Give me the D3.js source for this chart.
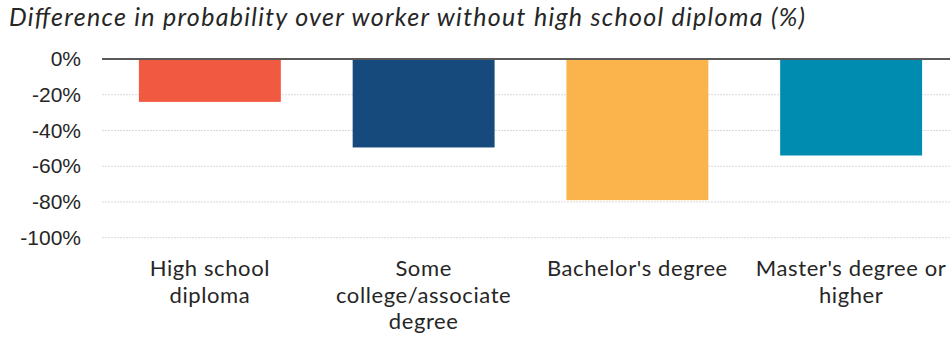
<!DOCTYPE html>
<html>
<head>
<meta charset="utf-8">
<script src="https://cdn.jsdelivr.net/npm/d3@7"></script>
<style>
  html, body { margin: 0; padding: 0; background: #fff; }
  svg { display: block; }
</style>
</head>
<body>
<svg id="chart" width="950" height="337"></svg>
<script>
// Education levels, with each label broken into its display lines
const categories = ["High school diploma", "Some college/associate degree", "Bachelor's degree", "Master's degree or higher"];
const categoryLines = [
  ["High school", "diploma"],
  ["Some", "college/associate", "degree"],
  ["Bachelor's degree"],
  ["Master's degree or", "higher"]
];
// Difference in probability vs. worker without a high school diploma (%)
const values = [-24, -49.5, -79, -54];
const barColors = ["#F15A40", "#174A7C", "#FBB44C", "#008BB0"];
const yTicks = [0, -20, -40, -60, -80, -100];
const title = "Difference in probability over worker without high school diploma (%)";

const svg = d3.select("#chart");
const W = 950;

const x = d3.scaleBand()
  .domain(categories)
  .range([103, 958])
  .paddingInner(0.336)
  .paddingOuter(0.168);

const y = d3.scaleLinear()
  .domain([-100, 0])
  .range([237.7, 59]);

// Title
svg.append("text")
  .attr("x", 9)
  .attr("y", 26)
  .attr("font-family", "Lato, 'Noto Sans', sans-serif")
  .attr("font-style", "italic")
  .attr("font-size", 25)
  .attr("textLength", 796)
  .attr("lengthAdjust", "spacing")
  .attr("fill", "#262626")
  .text(title);

// Dotted gridlines
svg.append("g")
  .selectAll("line")
  .data(yTicks.filter(t => t !== 0))
  .join("line")
  .attr("x1", 102).attr("x2", W)
  .attr("y1", d => y(d)).attr("y2", d => y(d))
  .attr("stroke", "#d9d9d9")
  .attr("stroke-width", 1)
  .attr("stroke-dasharray", "2,1");

// Y axis labels
const yAxis = d3.axisLeft(y)
  .tickValues(yTicks)
  .tickFormat(d => d + "%")
  .tickSize(0)
  .tickPadding(0);
const yg = svg.append("g")
  .attr("transform", "translate(81,0)")
  .call(yAxis);
yg.select(".domain").remove();
yg.selectAll("text")
  .attr("font-family", "'Liberation Sans', Arial, sans-serif")
  .attr("font-size", 21)
  .attr("fill", "#262626");

// Bars
svg.append("g")
  .selectAll("rect")
  .data(values)
  .join("rect")
  .attr("x", (d, i) => x(categories[i]))
  .attr("width", x.bandwidth())
  .attr("y", d => y(Math.max(0, d)))
  .attr("height", d => Math.abs(y(d) - y(0)))
  .attr("fill", (d, i) => barColors[i]);

// Zero baseline
svg.append("line")
  .attr("x1", 102).attr("x2", W)
  .attr("y1", y(0)).attr("y2", y(0))
  .attr("stroke", "#595959")
  .attr("stroke-width", 2);

// Category labels, one text element per line
const labelGroups = svg.append("g")
  .selectAll("g")
  .data(categories)
  .join("g")
  .attr("transform", d => `translate(${x(d) + x.bandwidth() / 2},0)`);
labelGroups.each(function(d, i) {
  d3.select(this).selectAll("text")
    .data(categoryLines[i])
    .join("text")
    .attr("x", 0)
    .attr("y", (l, j) => 276 + j * 26.5)
    .attr("text-anchor", "middle")
    .attr("font-family", "Lato, 'Noto Sans', sans-serif")
    .attr("font-size", 22)
    .attr("letter-spacing", 0.6)
    .attr("fill", "#262626")
    .text(l => l);
});
</script>
</body>
</html>
